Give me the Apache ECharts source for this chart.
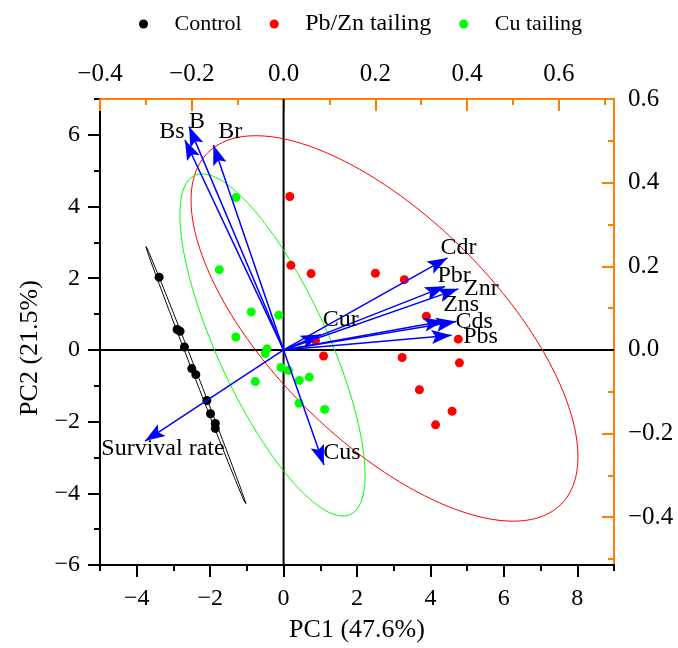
<!DOCTYPE html>
<html><head><meta charset="utf-8">
<script src="https://cdn.jsdelivr.net/npm/echarts@6/dist/echarts.min.js"></script>
<style>html,body{margin:0;padding:0;background:#fff}#c{width:678px;height:648px}</style>
</head><body><div id="c"></div>
<script>
// ---- data ----
const groups = ['Control', 'Pb/Zn tailing', 'Cu tailing'];
const controlPC1 = [-3.39, -2.90, -2.82, -2.70, -2.50, -2.39, -2.09, -1.99, -1.86, -1.86];
const controlPC2 = [2.03, 0.57, 0.52, 0.08, -0.52, -0.69, -1.41, -1.78, -2.05, -2.19];
const pbznPC1 = [0.17, 0.20, 0.75, 2.50, 3.29, 3.89, 0.87, 4.76, 1.09, 3.23, 4.79, 3.70, 4.59, 4.14];
const pbznPC2 = [4.28, 2.36, 2.13, 2.14, 1.96, 0.94, 0.26, 0.30, -0.17, -0.21, -0.36, -1.11, -1.71, -2.09];
const cuPC1 = [-1.30, -1.75, -0.88, -0.13, -1.30, -0.45, -0.50, -0.07, 0.13, -0.77, 0.43, 0.70, 0.42, 1.12];
const cuPC2 = [4.25, 2.24, 1.06, 0.97, 0.36, 0.03, -0.10, -0.49, -0.57, -0.88, -0.85, -0.76, -1.49, -1.66];

const variables = ['Bs', 'B', 'Br', 'Cdr', 'Pbr', 'Znr', 'Zns', 'Cds', 'Pbs', 'Cur', 'Cus', 'Survival rate'];
const loadingPC1 = [-0.215, -0.206, -0.153, 0.357, 0.352, 0.381, 0.350, 0.376, 0.366, 0.081, 0.088, -0.302];
const loadingPC2 = [0.502, 0.534, 0.490, 0.220, 0.152, 0.146, 0.069, 0.068, 0.035, 0.037, -0.275, -0.218];

// confidence ellipses: [centerX, centerY, axis1X, axis1Y, axis2X, axis2Y] (data units)
const ellipseControl = [-2.385, -0.715, -1.365, 3.605, 0.045, 0.018];
const ellipsePbZn = [2.749, 0.599, 4.811, -4.903, 2.149, 2.205];
const ellipseCu = [-0.302, 0.139, 2.119, -4.730, 1.367, 0.640];

// ticks
const pc1Ticks = [-4, -2, 0, 2, 4, 6, 8];
const pc1Minor = [-5, -3, -1, 1, 3, 5, 7, 9];
const pc2Ticks = [-6, -4, -2, 0, 2, 4, 6];
const pc2Minor = [-5, -3, -1, 1, 3, 5, 7];
const topTicks = [-0.4, -0.2, 0, 0.2, 0.4, 0.6];
const topMinor = [-0.3, -0.1, 0.1, 0.3, 0.5, 0.7];
const rightTicks = [-0.4, -0.2, 0, 0.2, 0.4, 0.6];
const rightMinor = [-0.5, -0.3, -0.1, 0.1, 0.3, 0.5];

// label offsets (px) for loading labels
const labelOffsets = [[-13, -8], [8, -5], [17, -13], [11, -10], [9, -11], [23, 0], [17, -16], [18, 0], [29, 1], [20, -15], [18, -12], [18, 8]];

// ---- styling ----
const FONT = 'Liberation Serif';
const ORANGE = '#ff8000';
const minus = s => String(s).replace('-', '\u2212');
const fmtInt = v => minus(Math.round(v));
const fmt1 = v => minus((Math.abs(v) < 1e-9 ? 0 : v).toFixed(1));

const xMin = -5, xMax = 9, yMin = -6, yMax = 7;
const topMin = -0.4, topMax = 0.72;
const rightMax = 0.6, rightMin = yMin * rightMax / yMax;

function zip(a, b) { return a.map((v, i) => [v, b[i]]); }
function ellipse(p) {
  const pts = [];
  for (let k = 0; k <= 240; k++) {
    const t = k / 240 * 2 * Math.PI;
    pts.push([p[0] + p[2] * Math.cos(t) + p[4] * Math.sin(t), p[1] + p[3] * Math.cos(t) + p[5] * Math.sin(t)]);
  }
  return pts;
}

function mkAxis(base, extra) { return Object.assign({
  type: 'value', splitLine: { show: false }, scale: false
}, base, extra); }

const tickLbl = (size) => ({ fontFamily: FONT, fontSize: size, color: '#000' });

const xAxis = [
  mkAxis({ position: 'bottom', min: xMin, max: xMax }, {
    axisLine: { show: true, onZero: false, lineStyle: { color: '#000', width: 2 } },
    axisTick: { show: true, customValues: pc1Ticks, length: 12, lineStyle: { color: '#000', width: 2 } },
    axisLabel: Object.assign({ customValues: pc1Ticks, formatter: fmtInt, margin: 22 }, tickLbl(24)),
    name: 'PC1 (47.6%)', nameLocation: 'middle', nameGap: 52,
    nameTextStyle: { fontFamily: FONT, fontSize: 26, color: '#000' }
  }),
  mkAxis({ position: 'bottom', min: xMin, max: xMax }, {
    axisLine: { show: false, onZero: false },
    axisTick: { show: true, customValues: pc1Minor, length: 6, lineStyle: { color: '#000', width: 2 } },
    axisLabel: { show: false }
  }),
  mkAxis({ position: 'top', min: topMin, max: topMax }, {
    axisLine: { show: true, onZero: false, lineStyle: { color: ORANGE, width: 2 } },
    axisTick: { show: true, inside: true, customValues: topTicks, length: 12, lineStyle: { color: ORANGE, width: 2 } },
    axisLabel: Object.assign({ customValues: topTicks, formatter: fmt1, margin: 12 }, tickLbl(25))
  }),
  mkAxis({ position: 'top', min: topMin, max: topMax }, {
    axisLine: { show: false, onZero: false },
    axisTick: { show: true, inside: true, customValues: topMinor, length: 6, lineStyle: { color: ORANGE, width: 2 } },
    axisLabel: { show: false }
  })
];

const yAxis = [
  mkAxis({ position: 'left', min: yMin, max: yMax }, {
    axisLine: { show: true, onZero: false, lineStyle: { color: '#000', width: 2 } },
    axisTick: { show: true, customValues: pc2Ticks, length: 12, lineStyle: { color: '#000', width: 2 } },
    axisLabel: Object.assign({ customValues: pc2Ticks, formatter: fmtInt, margin: 20 }, tickLbl(24)),
    name: 'PC2 (21.5%)', nameLocation: 'middle', nameGap: 56, nameRotate: 90,
    nameTextStyle: { fontFamily: FONT, fontSize: 26, color: '#000', padding: [0, 32, 0, 0] }
  }),
  mkAxis({ position: 'left', min: yMin, max: yMax }, {
    axisLine: { show: false, onZero: false },
    axisTick: { show: true, customValues: pc2Minor, length: 6, lineStyle: { color: '#000', width: 2 } },
    axisLabel: { show: false }
  }),
  mkAxis({ position: 'right', min: rightMin, max: rightMax }, {
    axisLine: { show: true, onZero: false, lineStyle: { color: ORANGE, width: 2 } },
    axisTick: { show: true, inside: true, customValues: rightTicks, length: 12, lineStyle: { color: ORANGE, width: 2 } },
    axisLabel: Object.assign({ customValues: rightTicks, formatter: fmt1, margin: 14 }, tickLbl(25))
  }),
  mkAxis({ position: 'right', min: rightMin, max: rightMax }, {
    axisLine: { show: false, onZero: false },
    axisTick: { show: true, inside: true, customValues: rightMinor, length: 6, lineStyle: { color: ORANGE, width: 2 } },
    axisLabel: { show: false }
  })
];

const ARROW = 'path://M0,-20 M0,0 L7,20 L0,16 L-7,20 Z';

const series = [
  { type: 'line', data: [[0, yMin], [0, yMax]], showSymbol: false, symbol: 'none', silent: true,
    lineStyle: { color: '#000', width: 2 }, xAxisIndex: 0, yAxisIndex: 0, z: 1 },
  { type: 'line', data: [[xMin, 0], [xMax, 0]], showSymbol: false, symbol: 'none', silent: true,
    lineStyle: { color: '#000', width: 2 }, xAxisIndex: 0, yAxisIndex: 0, z: 1 },
  { type: 'line', data: ellipse(ellipseControl), symbol: 'none', silent: true,
    lineStyle: { color: '#000', width: 1 }, xAxisIndex: 0, yAxisIndex: 0, z: 2 },
  { type: 'line', data: ellipse(ellipsePbZn), symbol: 'none', silent: true,
    lineStyle: { color: '#ff0000', width: 1 }, xAxisIndex: 0, yAxisIndex: 0, z: 2 },
  { type: 'line', data: ellipse(ellipseCu), symbol: 'none', silent: true,
    lineStyle: { color: '#00ff00', width: 1 }, xAxisIndex: 0, yAxisIndex: 0, z: 2 },
  { name: 'Control', type: 'scatter', data: zip(controlPC1, controlPC2), symbolSize: 9,
    itemStyle: { color: '#000', opacity: 1 }, xAxisIndex: 0, yAxisIndex: 0, z: 3 },
  { name: 'Pb/Zn tailing', type: 'scatter', data: zip(pbznPC1, pbznPC2), symbolSize: 9,
    itemStyle: { color: '#ff0000', opacity: 1 }, xAxisIndex: 0, yAxisIndex: 0, z: 3 },
  { name: 'Cu tailing', type: 'scatter', data: zip(cuPC1, cuPC2), symbolSize: 9,
    itemStyle: { color: '#00ff00', opacity: 1 }, xAxisIndex: 0, yAxisIndex: 0, z: 3 },
  { name: 'loadings', type: 'scatter', xAxisIndex: 2, yAxisIndex: 2, z: 5, silent: true,
    symbolSize: 1, itemStyle: { color: '#0000ff', opacity: 0 },
    data: variables.map((n, i) => ({ name: n, value: [loadingPC1[i], loadingPC2[i]],
      label: { offset: labelOffsets[i] } })),
    label: { show: true, position: 'inside', formatter: '{b}', fontFamily: FONT, fontSize: 24,
      color: '#000', opacity: 1, textBorderWidth: 0, textBorderColor: 'transparent' },
    markLine: {
      silent: true, animation: false,
      symbol: ['none', ARROW], symbolSize: [14, 40],
      lineStyle: { color: '#0000ff', width: 1.5, type: 'solid', opacity: 1 },
      itemStyle: { color: '#0000ff', opacity: 1 },
      label: { show: false },
      emphasis: { disabled: true },
      data: variables.map((n, i) => [{ coord: [0, 0] }, { coord: [loadingPC1[i], loadingPC2[i]] }])
    }
  }
];

const chart = echarts.init(document.getElementById('c'), null, { renderer: 'canvas' });
chart.setOption({
  backgroundColor: '#fff',
  animation: false,
  grid: { left: 100, right: 64, top: 99, bottom: 82, containLabel: false },
  legend: {
    data: groups, left: 134, top: 7, icon: 'circle', itemWidth: 52, itemHeight: 9, itemGap: 28,
    selectedMode: false,
    textStyle: { fontFamily: FONT, fontSize: 22, color: '#000', rich: { big: { fontFamily: FONT, fontSize: 24, color: '#000' } } },
    formatter: n => n === 'Pb/Zn tailing' ? '{big|' + n + '}' : n
  },
  xAxis, yAxis, series
});
</script>
</body></html>
